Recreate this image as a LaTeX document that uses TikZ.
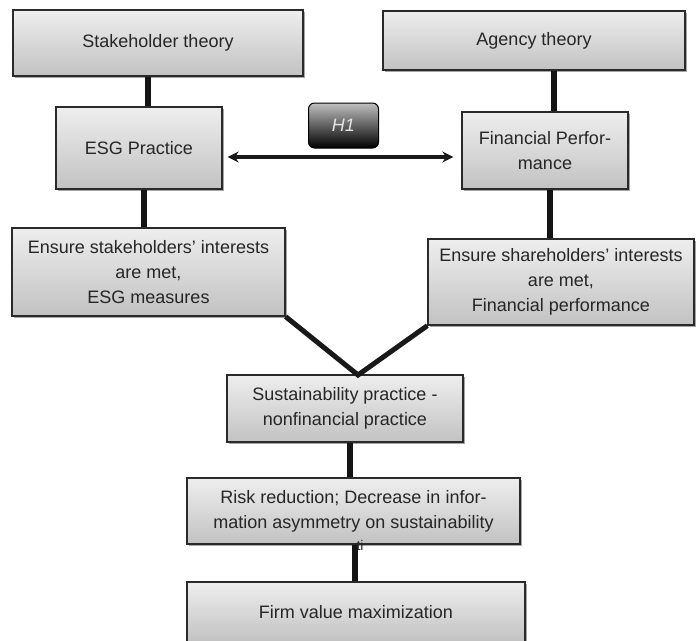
\documentclass[tikz,border=0pt]{standalone}
\usepackage{fontspec}
\setmainfont{Liberation Sans}
\usetikzlibrary{shadows,arrows.meta}
\definecolor{txt}{HTML}{262626}
\definecolor{edge}{HTML}{2A2A2A}
\definecolor{boxtop}{HTML}{EEEEEE}
\definecolor{boxbot}{HTML}{C2C2C2}
\tikzset{
  box/.style={draw=edge, line width=1.3pt, top color=boxtop, bottom color=boxbot,
    drop shadow={shadow xshift=1.5pt, shadow yshift=-1.5pt, opacity=0.35, fill=black},
    font=\fontsize{18}{25}\selectfont, text=txt, align=center, inner sep=0pt},
  hbox/.style={draw=black, line width=1pt, rounded corners=6pt, top color=gray!50, bottom color=black,
    font=\fontsize{18}{20}\selectfont\itshape, text=white!90!black, inner sep=0pt},
  link/.style={line width=6pt, draw=black!92},
  diag/.style={line width=5pt, draw=black!90},
  arr/.style={line width=3.5pt, draw=black!90, {Stealth[length=11pt,width=11pt]}-{Stealth[length=11pt,width=11pt]}},
}
\begin{document}
\begin{tikzpicture}[x=1pt,y=-1pt]
\useasboundingbox (0,0) rectangle (696,640);
\begin{scope}
\clip (0,0) rectangle (696,640);
\node[box, minimum width=290pt, minimum height=66pt] (st) at (158,43) {Stakeholder theory};
\node[box, minimum width=302pt, minimum height=59pt] (ag) at (534,40.5) {Agency theory};
\node[box, minimum width=166pt, minimum height=82pt] (esg) at (139,148) {ESG Practice};
\node[hbox, minimum width=70pt, minimum height=45pt] (h1) at (343.5,125.5) {H1};
\node[box, minimum width=166pt, minimum height=77pt] (fp) at (545,150.5) {Financial Perfor-\\mance};
\node[box, minimum width=273pt, minimum height=88pt] (es) at (148.5,272) {Ensure stakeholders’ interests\\are met,\\ESG measures};
\node[box, minimum width=266pt, minimum height=86pt] (eh) at (561,282) {Ensure shareholders’ interests\\are met,\\Financial performance};
\node[box, minimum width=236pt, minimum height=67pt] (sp) at (345,408.5) {Sustainability practice -\\nonfinancial practice};
\node[box, minimum width=333pt, minimum height=66pt] (rr) at (353.5,511) {Risk reduction; Decrease in infor-\\mation asymmetry on sustainability};
\node[box, minimum width=338pt, minimum height=60pt] (fv) at (356,612) {Firm value maximization};
\coordinate (meet) at (358,375);

\draw[link] ([xshift=-10pt]st.south) -- ([xshift=-10pt]st.south |- esg.north);
\draw[link] ([xshift=20pt]ag.south) -- ([xshift=20pt]ag.south |- fp.north);
\draw[link] ([xshift=5pt]esg.south) -- ([xshift=5pt]esg.south |- es.north);
\draw[link] ([xshift=5pt]fp.south) -- ([xshift=5pt]fp.south |- eh.north);
\draw[diag] (es.south east) -- (meet) -- (eh.south west);
\draw[link] ([xshift=5pt]sp.south) -- ([xshift=5pt]sp.south |- rr.north);
\draw[link] ([xshift=1.5pt]rr.south) -- ([xshift=1.5pt]rr.south |- fv.north);
\draw[arr] ([xshift=5pt,yshift=-9pt]esg.east) -- ([xshift=-8pt,yshift=-9pt]esg.east -| fp.west);
\node[font=\fontsize{14}{15}\selectfont, text=txt, inner sep=0pt] (ti) at (360,545) {ti};
\end{scope}
\end{tikzpicture}
\end{document}
